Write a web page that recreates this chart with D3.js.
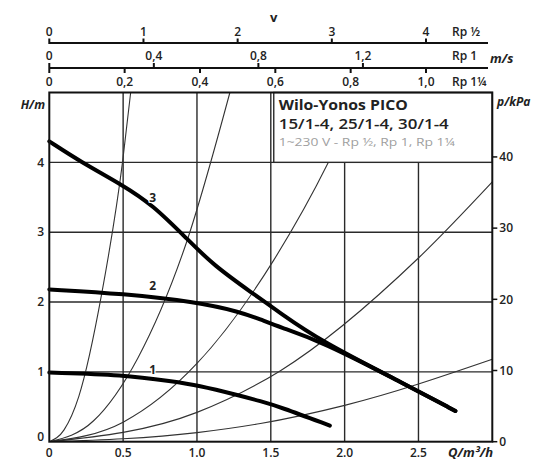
<!DOCTYPE html>
<html>
<head>
<meta charset="utf-8">
<script src="https://cdn.jsdelivr.net/npm/d3@7"></script>
<style>
  body { margin: 0; background: #fff; }
  svg text { font-family: "Open Sans", sans-serif; fill: #222; }
</style>
</head>
<body>
<div id="chart"></div>
<script>
// DATA
// pump curves, speed stages 1..3 : Q in m3/h, H in m
var q1 = [0, 0.5, 0.84, 1.0, 1.29, 1.43, 1.56, 1.90];
var h1 = [0.99, 0.96, 0.86, 0.81, 0.66, 0.58, 0.50, 0.23];
var q2 = [0, 0.5, 1.0, 1.29, 1.43, 1.56, 1.83, 2.44, 2.75];
var h2 = [2.18, 2.12, 2.0, 1.86, 1.75, 1.64, 1.45, 0.79, 0.44];
var q3 = [0, 0.21, 0.5, 0.7, 0.93, 1.11, 1.38, 1.56, 1.83, 2.44, 2.75];
var h3 = [4.30, 4.01, 3.67, 3.39, 2.91, 2.53, 2.12, 1.85, 1.45, 0.79, 0.44];

// thin system curves
var sysA = [[0, 0], [0.1, 0.17], [0.2, 0.65], [0.355, 2.12], [0.497, 4.02], [0.551, 5.0]];
var sysB = [[0, 0], [0.3, 0.3], [0.6, 1.2], [0.93, 2.86], [1.223, 5.0]];
var sysC = [[0, 0], [0.5, 0.28], [1.0, 1.12], [1.52, 2.6], [1.89, 4.0], [2.11, 5.0]];
var sysD = [[0, 0], [1.0, 0.42], [1.56, 1.01], [2.5, 2.63], [3.0, 3.72]];
var sysE = [[0, 0], [1.0, 0.13], [1.43, 0.26], [2.0, 0.52], [3.0, 1.18]];

// tick labels
var qTicks = [0, 0.5, 1.0, 1.5, 2.0, 2.5];
var hTicks = [0, 1, 2, 3, 4];
var pTicks = [0, 10, 20, 30, 40];
var vHalfTicks = [0, 1, 2, 3, 4];     // Rp 1/2
var vOneTicks = [0, 0.4, 0.8, 1.2];    // Rp 1
var vQuarterTicks = [0, 0.2, 0.4, 0.6, 0.8, 1.0]; // Rp 1 1/4
// m/s per m3/h for each pipe size
var vFactorHalf = 1.568, vFactorOne = 0.565, vFactorQuarter = 0.392;

var W = 540, H = 461;

var svg = d3.select('#chart').append('svg')
  .attr('width', W).attr('height', H);

// SCALES
var x = d3.scaleLinear().domain([0, 3]).range([49.3, 492.3]);
var y = d3.scaleLinear().domain([0, 5]).range([441.7, 92.5]);
var yP = d3.scaleLinear().domain([0, 5 * 9.81]).range([441.7, 92.5]);

var fmtComma = function(d) { return d == 0 ? '0' : d3.format('.1f')(d).replace('.', ','); };

// clip for curves
svg.append('clipPath').attr('id', 'plotclip')
  .append('rect')
  .attr('x', x(0)).attr('y', y(5))
  .attr('width', x(3) - x(0)).attr('height', y(0) - y(5));

// GRID
var grid = svg.append('g').attr('stroke', '#2a2a2a').attr('stroke-width', 1.4);
grid.selectAll('.vg').data(qTicks.filter(function(d) { return d > 0; }))
  .enter().append('line')
  .attr('x1', function(d) { return x(d); }).attr('x2', function(d) { return x(d); })
  .attr('y1', y(0)).attr('y2', y(5));
grid.selectAll('.hg').data(hTicks.filter(function(d) { return d > 0; }))
  .enter().append('line')
  .attr('x1', x(0)).attr('x2', x(3))
  .attr('y1', function(d) { return y(d); }).attr('y2', function(d) { return y(d); });

// SYSTEM CURVES
var sysLine = d3.line()
  .x(function(d) { return x(d[0]); })
  .y(function(d) { return y(d[1]); })
  .curve(d3.curveMonotoneX);

svg.append('g').attr('clip-path', 'url(#plotclip)')
  .selectAll('path').data([sysA, sysB, sysC, sysD, sysE])
  .enter().append('path')
  .attr('d', sysLine)
  .attr('fill', 'none').attr('stroke', '#333').attr('stroke-width', 1.1);

// TITLE BOX
svg.append('rect')
  .attr('x', x(1.52)).attr('y', y(5))
  .attr('width', x(3) - x(1.52)).attr('height', y(4) - y(5))
  .attr('fill', '#fff').attr('stroke', '#2a2a2a').attr('stroke-width', 1.4);

var tb = svg.append('g').attr('transform', 'translate(' + (x(1.52) + 5) + ',0)');
tb.append('text').attr('y', 110).attr('font-size', 14).attr('font-weight', 700)
  .attr('textLength', 129).attr('lengthAdjust', 'spacingAndGlyphs')
  .text('Wilo-Yonos PICO');
tb.append('text').attr('y', 129).attr('font-size', 14.5).attr('font-weight', 600)
  .attr('textLength', 170).attr('lengthAdjust', 'spacingAndGlyphs')
  .text('15/1-4, 25/1-4, 30/1-4');
tb.append('text').attr('y', 146).attr('font-size', 11.5).style('fill', '#a0a0a0')
  .attr('textLength', 176).attr('lengthAdjust', 'spacingAndGlyphs')
  .text('1~230 V - Rp \u00bd, Rp 1, Rp 1\u00bc');

// PUMP CURVES
var pump = [
  { name: '1', q: q1, h: h1 },
  { name: '2', q: q2, h: h2 },
  { name: '3', q: q3, h: h3 }
];
var pumpLine = d3.line()
  .x(function(d) { return x(d[0]); })
  .y(function(d) { return y(d[1]); })
  .curve(d3.curveBasis);

pump.forEach(function(p) {
  var pts = p.q.map(function(v, i) { return [v, p.h[i]]; });
  svg.append('path')
    .attr('d', pumpLine(pts))
    .attr('fill', 'none').attr('stroke', '#000')
    .attr('stroke-width', 4).attr('stroke-linecap', 'round');
});

// curve labels, sitting just above each curve
var lbl = [[0.7, 1.03, '1'], [0.7, 2.23, '2'], [0.7, 3.49, '3']];
svg.selectAll('.clbl').data(lbl).enter().append('text')
  .attr('x', function(d) { return x(d[0]); })
  .attr('y', function(d) { return y(d[1]); })
  .attr('text-anchor', 'middle').attr('dy', '0.35em')
  .attr('font-size', 12).attr('font-weight', 700)
  .attr('stroke', '#fff').attr('stroke-width', 2.5).attr('paint-order', 'stroke')
  .text(function(d) { return d[2]; });

// FRAME
svg.append('rect')
  .attr('x', x(0)).attr('y', y(5))
  .attr('width', x(3) - x(0)).attr('height', y(0) - y(5))
  .attr('fill', 'none').attr('stroke', '#111').attr('stroke-width', 2);

// LEFT AXIS (H/m)
svg.selectAll('.hl').data(hTicks).enter().append('text')
  .attr('x', 44).attr('y', function(d) { return y(d); })
  .attr('dy', function(d) { return d == 0 ? '-0.1em' : '0.35em'; })
  .attr('text-anchor', 'end').attr('font-size', 12).attr('font-weight', 600)
  .text(function(d) { return d; });
svg.append('text').attr('x', 45).attr('y', 109).attr('text-anchor', 'end')
  .attr('font-size', 12).attr('font-weight', 700).attr('font-style', 'italic')
  .text('H/m');

// RIGHT AXIS (p/kPa)
var right = svg.append('g');
right.selectAll('line').data(pTicks).enter().append('line')
  .attr('x1', x(3)).attr('x2', x(3) + 5)
  .attr('y1', function(d) { return yP(d); }).attr('y2', function(d) { return yP(d); })
  .attr('stroke', '#111').attr('stroke-width', 1.5);
right.selectAll('text').data(pTicks).enter().append('text')
  .attr('x', x(3) + 7).attr('y', function(d) { return yP(d); })
  .attr('dy', '0.35em').attr('font-size', 12).attr('font-weight', 600)
  .text(function(d) { return d; });
svg.append('text').attr('x', 497).attr('y', 106)
  .attr('font-size', 12).attr('font-weight', 700).attr('font-style', 'italic')
  .text('p/kPa');

// BOTTOM AXIS (Q)
svg.selectAll('.ql').data(qTicks).enter().append('text')
  .attr('x', function(d) { return x(d); }).attr('y', 457)
  .attr('text-anchor', 'middle').attr('font-size', 12).attr('font-weight', 600)
  .text(function(d) { return d == 0 ? '0' : d3.format('.1f')(d); });
svg.append('text').attr('x', 493).attr('y', 457).attr('text-anchor', 'end')
  .attr('font-size', 13).attr('font-weight', 700).attr('font-style', 'italic')
  .text('Q/m\u00b3/h');

// TOP VELOCITY SCALES
var lineEnd = 488;
var vAxes = svg.append('g').attr('stroke', '#111').attr('stroke-width', 2);
// Rp 1/2
vAxes.append('line').attr('x1', x(0)).attr('x2', lineEnd).attr('y1', 43).attr('y2', 43);
vAxes.selectAll('.t1').data(vHalfTicks).enter().append('line')
  .attr('x1', function(d) { return x(d / vFactorHalf); })
  .attr('x2', function(d) { return x(d / vFactorHalf); })
  .attr('y1', 38.5).attr('y2', 44);
// Rp 1 and Rp 1 1/4 share a line
vAxes.append('line').attr('x1', x(0)).attr('x2', lineEnd).attr('y1', 68).attr('y2', 68);
vAxes.selectAll('.t2').data(vOneTicks).enter().append('line')
  .attr('x1', function(d) { return x(d / vFactorOne); })
  .attr('x2', function(d) { return x(d / vFactorOne); })
  .attr('y1', 63).attr('y2', 68);
vAxes.selectAll('.t3').data(vQuarterTicks).enter().append('line')
  .attr('x1', function(d) { return x(d / vFactorQuarter); })
  .attr('x2', function(d) { return x(d / vFactorQuarter); })
  .attr('y1', 68).attr('y2', 73);

var topLbl = svg.append('g').attr('font-size', 12).attr('font-weight', 600).attr('text-anchor', 'middle');
topLbl.selectAll('.l1').data(vHalfTicks).enter().append('text')
  .attr('x', function(d) { return x(d / vFactorHalf); }).attr('y', 36)
  .text(function(d) { return d; });
topLbl.selectAll('.l2').data(vOneTicks).enter().append('text')
  .attr('x', function(d) { return x(d / vFactorOne); }).attr('y', 60)
  .text(fmtComma);
topLbl.selectAll('.l3').data(vQuarterTicks).enter().append('text')
  .attr('x', function(d) { return x(d / vFactorQuarter); }).attr('y', 86)
  .text(fmtComma);

var pipeLbl = svg.append('g').attr('font-size', 12).attr('font-weight', 600);
pipeLbl.append('text').attr('x', 452).attr('y', 36).text('Rp \u00bd');
pipeLbl.append('text').attr('x', 452).attr('y', 60).text('Rp 1');
pipeLbl.append('text').attr('x', 452).attr('y', 86).text('Rp 1\u00bc');
svg.append('text').attr('x', 490).attr('y', 63)
  .attr('font-size', 13).attr('font-weight', 700).attr('font-style', 'italic')
  .text('m/s');
svg.append('text').attr('x', x(1.52)).attr('y', 22).attr('text-anchor', 'middle')
  .attr('font-size', 13).attr('font-weight', 700)
  .text('v');
</script>
</body>
</html>
